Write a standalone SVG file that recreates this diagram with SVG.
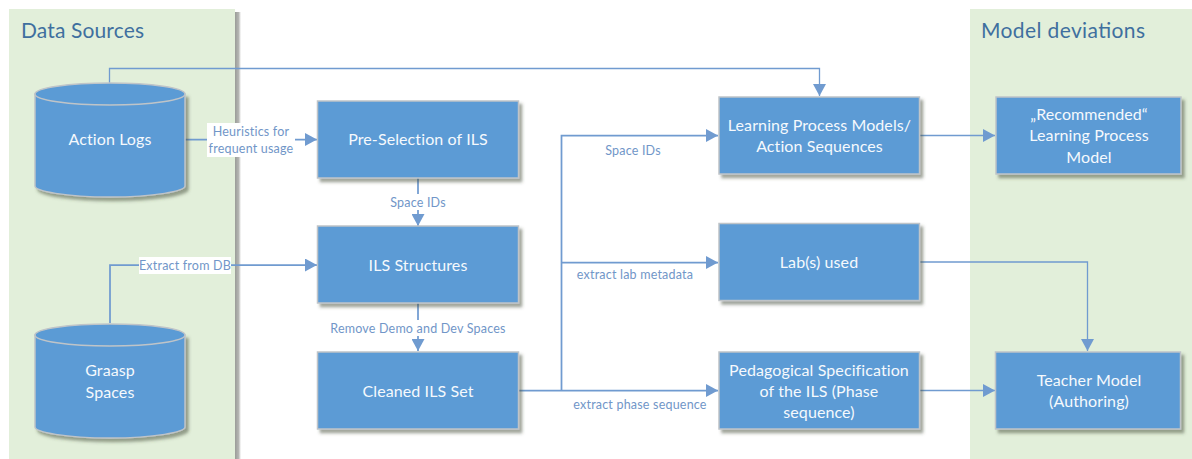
<svg xmlns="http://www.w3.org/2000/svg" width="1192" height="459" viewBox="0 0 1192 459">
<style>
text{font-family:"Lato","Open Sans","Liberation Sans",sans-serif}
.box{fill:#5b9bd5;stroke:#bfc4c8;stroke-width:1.5;filter:url(#sh)}
.cap{fill:#5b9bd5;stroke:#bfc4c8;stroke-width:1.5}
.nt{fill:#f5f9fd;font-size:16px;text-anchor:middle;letter-spacing:.1px}
.title{fill:#3f6f9f;font-size:21px}
.lb{fill:#7196c8;font-size:12.5px;text-anchor:middle;letter-spacing:.2px}
.c{fill:none;stroke:#709bd0;stroke-width:1.75}
.t{stroke-width:1.3}
.w{fill:#fff}
</style>
<defs>
<filter id="sh" x="-10%" y="-10%" width="125%" height="125%"><feDropShadow dx="3" dy="3.500" stdDeviation="1.800" flood-color="#3f4a35" flood-opacity=".5"/></filter>
<linearGradient id="ps"><stop offset="0" stop-color="#9a9c98"/><stop offset=".6" stop-color="#b5b6b3"/><stop offset="1" stop-color="#fff"/></linearGradient>
<marker id="a" markerUnits="userSpaceOnUse" markerWidth="13" markerHeight="13" refX="12" refY="6.500" orient="auto"><path d="M0 0L12 6.500L0 13Z" fill="#709bd0"/></marker>
</defs>
<g id="panel-data-sources"><rect x="235" y="12" width="6" height="447" fill="url(#ps)"/><rect x="9" y="9" width="226" height="450" fill="#e2efda"/><text class="title" x="21" y="38" textLength="123">Data Sources</text></g>
<g id="panel-model-deviations"><rect x="970" y="9" width="222" height="450" fill="#e2efda"/><text class="title" x="981" y="38" textLength="164">Model deviations</text></g>
<g id="connectors">
<path class="c t" d="M109.500 83V68.500H819.500V96" marker-end="url(#a)"/>
<path class="c" d="M185 139.500H317" marker-end="url(#a)"/>
<path class="c" d="M110 323V265H317" marker-end="url(#a)"/>
<path class="c" d="M418 178V226" marker-end="url(#a)"/>
<path class="c" d="M418 303V351" marker-end="url(#a)"/>
<path class="c" d="M518 390.500H718" marker-end="url(#a)"/>
<path class="c" d="M561.500 390.500V135.500H718" marker-end="url(#a)"/>
<path class="c" d="M561.500 262.500H718" marker-end="url(#a)"/>
<path class="c t" d="M919 135.500H995" marker-end="url(#a)"/>
<path class="c t" d="M919 262H1087.500V351" marker-end="url(#a)"/>
<path class="c t" d="M919 390.500H995" marker-end="url(#a)"/>
<rect class="w" x="207" y="123" width="88" height="34"/>
<rect class="w" x="139" y="257" width="92" height="17"/>
<rect class="w" x="385" y="194" width="66" height="16"/>
<rect class="w" x="328" y="320" width="180" height="16"/>
<text class="lb" x="251" y="136">Heuristics for</text>
<text class="lb" x="251" y="153">frequent usage</text>
<text class="lb" x="185" y="270">Extract from DB</text>
<text class="lb" x="418" y="207">Space IDs</text>
<text class="lb" x="418" y="333">Remove Demo and Dev Spaces</text>
<text class="lb" x="633" y="155">Space IDs</text>
<text class="lb" x="635" y="279">extract lab metadata</text>
<text class="lb" x="640" y="409">extract phase sequence</text>
</g>
<g id="action-logs"><path class="box" d="M35 94V186C35 191 65 197 110 197S185 191 185 186V94Z"/><ellipse class="cap" cx="110" cy="94" rx="75" ry="11"/><text class="nt" x="110" y="145">Action Logs</text></g>
<g id="graasp-spaces"><path class="box" d="M35 335V427C35 432 65 438 110 438S185 432 185 427V335Z"/><ellipse class="cap" cx="110" cy="335" rx="75" ry="11"/><text class="nt" x="110" y="376">Graasp</text><text class="nt" x="110" y="398">Spaces</text></g>
<g id="pre-selection"><rect class="box" x="317.500" y="101" width="201" height="77"/><text class="nt" x="418" y="145">Pre-Selection of ILS</text></g>
<g id="ils-structures"><rect class="box" x="317.500" y="226" width="201" height="77"/><text class="nt" x="418" y="271">ILS Structures</text></g>
<g id="cleaned-ils"><rect class="box" x="317.500" y="352" width="201" height="77"/><text class="nt" x="418" y="397">Cleaned ILS Set</text></g>
<g id="learning-process"><rect class="box" x="719" y="97" width="200.500" height="77"/><text class="nt" x="819.500" y="131">Learning Process Models/</text><text class="nt" x="819.500" y="152">Action Sequences</text></g>
<g id="labs-used"><rect class="box" x="719" y="223.500" width="200.500" height="77"/><text class="nt" x="819" y="268">Lab(s) used</text></g>
<g id="pedagogical"><rect class="box" x="719" y="352" width="200.500" height="77"/><text class="nt" x="819" y="376">Pedagogical Specification</text><text class="nt" x="819" y="397">of the ILS (Phase</text><text class="nt" x="819" y="418">sequence)</text></g>
<g id="recommended"><rect class="box" x="996" y="97" width="185" height="77"/><text class="nt" x="1089" y="120">„Recommended“</text><text class="nt" x="1089" y="141">Learning Process</text><text class="nt" x="1089" y="163">Model</text></g>
<g id="teacher-model"><rect class="box" x="995.500" y="352" width="185" height="77"/><text class="nt" x="1089" y="386">Teacher Model</text><text class="nt" x="1089" y="407">(Authoring)</text></g>
</svg>
